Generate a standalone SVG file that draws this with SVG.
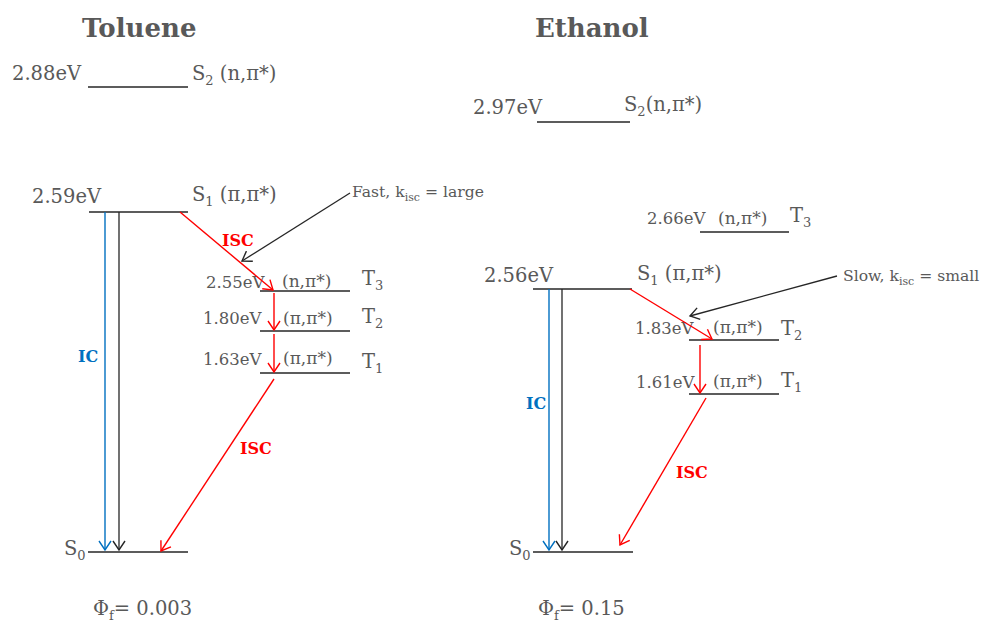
<svg xmlns="http://www.w3.org/2000/svg" width="984" height="624" viewBox="0 0 984 624">
<style>
text{font-family:"DejaVu Serif","Liberation Serif",serif;fill:#595959}
.e{font-size:19.5px}
.s{font-size:16.5px}
.p{font-size:17px}
.n{font-size:15.6px}
.t{font-size:26px;font-weight:bold}
.lab{font-size:16px;font-weight:bold}
.lv{stroke:#262626;stroke-width:1.3;fill:none}
.k{stroke:#262626;stroke-width:1.3;fill:none}
.r{stroke:#ff0000;stroke-width:1.4;fill:none}
.b{stroke:#0070c0;stroke-width:1.4;fill:none}
</style>
<defs>
<marker id="mk" markerUnits="userSpaceOnUse" markerWidth="14" markerHeight="14" refX="10" refY="7" orient="auto"><path d="M1,1 L10,7 L1,13" fill="none" stroke="#262626" stroke-width="1.4"/></marker>
<marker id="mr" markerUnits="userSpaceOnUse" markerWidth="14" markerHeight="14" refX="10" refY="7" orient="auto"><path d="M1,1 L10,7 L1,13" fill="none" stroke="#ff0000" stroke-width="1.4"/></marker>
<marker id="mb" markerUnits="userSpaceOnUse" markerWidth="14" markerHeight="14" refX="10" refY="7" orient="auto"><path d="M1,1 L10,7 L1,13" fill="none" stroke="#0070c0" stroke-width="1.4"/></marker>
</defs>
<rect width="984" height="624" fill="#ffffff"/>

<!-- Toluene -->
<text class="t" x="82" y="37">Toluene</text>
<g id="tol-S2">
<line class="lv" x1="88" y1="87" x2="188" y2="87"/>
<text class="e" x="12" y="80">2.88eV</text>
<text class="e" x="192" y="80">S<tspan font-size="13" dy="5">2</tspan><tspan dy="-5"> (n,π*)</tspan></text>
</g>
<g id="tol-S1">
<line class="lv" x1="89" y1="212" x2="188" y2="212"/>
<text class="e" x="32" y="203">2.59eV</text>
<text class="e" x="192" y="201">S<tspan font-size="13" dy="5">1</tspan><tspan dy="-5"> (π,π*)</tspan></text>
</g>
<g id="tol-T3">
<line class="lv" x1="260" y1="291" x2="350" y2="291"/>
<text class="s" x="206" y="288">2.55eV</text>
<text class="p" x="282" y="287">(n,π*)</text>
<text class="e" x="362" y="285">T<tspan font-size="13" dy="5">3</tspan></text>
</g>
<g id="tol-T2">
<line class="lv" x1="260" y1="331" x2="350" y2="331"/>
<text class="s" x="203" y="324">1.80eV</text>
<text class="p" x="283" y="324">(π,π*)</text>
<text class="e" x="362" y="323">T<tspan font-size="13" dy="5">2</tspan></text>
</g>
<g id="tol-T1">
<line class="lv" x1="260" y1="373" x2="350" y2="373"/>
<text class="s" x="203" y="365">1.63eV</text>
<text class="p" x="283" y="364">(π,π*)</text>
<text class="e" x="362" y="368">T<tspan font-size="13" dy="5">1</tspan></text>
</g>
<g id="tol-S0">
<line class="lv" x1="88" y1="552" x2="188" y2="552"/>
<text class="e" x="64" y="555">S<tspan font-size="13" dy="5">0</tspan></text>
</g>
<text class="e" x="93" y="615">Φ<tspan font-size="13" dy="5">f</tspan><tspan dy="-5">= 0.003</tspan></text>
<text class="n" x="352" y="197">Fast, k<tspan font-size="11" dy="4">isc</tspan><tspan dy="-4"> = large</tspan></text>

<!-- Ethanol -->
<text class="t" x="535" y="37">Ethanol</text>
<g id="eth-S2">
<line class="lv" x1="537" y1="122" x2="630" y2="122"/>
<text class="e" x="473" y="114">2.97eV</text>
<text class="e" x="624" y="111">S<tspan font-size="13" dy="5">2</tspan><tspan dy="-5">(n,π*)</tspan></text>
</g>
<g id="eth-T3">
<line class="lv" x1="700" y1="232" x2="789" y2="232"/>
<text class="s" x="647" y="224">2.66eV</text>
<text class="p" x="718" y="224">(n,π*)</text>
<text class="e" x="790" y="222">T<tspan font-size="13" dy="5">3</tspan></text>
</g>
<g id="eth-S1">
<line class="lv" x1="533" y1="289" x2="632" y2="289"/>
<text class="e" x="484" y="282">2.56eV</text>
<text class="e" x="637" y="280">S<tspan font-size="13" dy="5">1</tspan><tspan dy="-5"> (π,π*)</tspan></text>
</g>
<g id="eth-T2">
<line class="lv" x1="689" y1="340" x2="779" y2="340"/>
<text class="s" x="635" y="334">1.83eV</text>
<text class="p" x="713" y="333">(π,π*)</text>
<text class="e" x="781" y="335">T<tspan font-size="13" dy="5">2</tspan></text>
</g>
<g id="eth-T1">
<line class="lv" x1="689" y1="394" x2="779" y2="394"/>
<text class="s" x="636" y="388">1.61eV</text>
<text class="p" x="713" y="387">(π,π*)</text>
<text class="e" x="781" y="387">T<tspan font-size="13" dy="5">1</tspan></text>
</g>
<g id="eth-S0">
<line class="lv" x1="533" y1="552" x2="633" y2="552"/>
<text class="e" x="509" y="555">S<tspan font-size="13" dy="5">0</tspan></text>
</g>
<text class="e" x="538" y="615">Φ<tspan font-size="13" dy="5">f</tspan><tspan dy="-5">= 0.15</tspan></text>
<text class="n" x="843" y="281">Slow, k<tspan font-size="11" dy="4">isc</tspan><tspan dy="-4"> = small</tspan></text>

<!-- connectors -->
<g id="connectors">
<line class="b" x1="105" y1="212" x2="105" y2="550" marker-end="url(#mb)"/>
<line class="k" x1="119" y1="212" x2="119" y2="550" marker-end="url(#mk)"/>
<line class="r" x1="180" y1="212" x2="273" y2="290" marker-end="url(#mr)"/>
<line class="r" x1="274" y1="293" x2="274" y2="330" marker-end="url(#mr)"/>
<line class="r" x1="274" y1="334" x2="274" y2="372" marker-end="url(#mr)"/>
<line class="r" x1="274" y1="379" x2="161" y2="551" marker-end="url(#mr)"/>
<line class="k" x1="350" y1="193" x2="242" y2="261" marker-end="url(#mk)"/>

<line class="b" x1="549" y1="289" x2="549" y2="550" marker-end="url(#mb)"/>
<line class="k" x1="562" y1="289" x2="562" y2="550" marker-end="url(#mk)"/>
<line class="r" x1="630" y1="289" x2="712" y2="339" marker-end="url(#mr)"/>
<line class="r" x1="700" y1="345" x2="700" y2="393" marker-end="url(#mr)"/>
<line class="r" x1="706" y1="398" x2="620" y2="545" marker-end="url(#mr)"/>
<line class="k" x1="837" y1="276" x2="690" y2="316" marker-end="url(#mk)"/>
</g>
<text class="lab" x="222" y="246" style="fill:#ff0000">ISC</text>
<text class="lab" x="240" y="454" style="fill:#ff0000">ISC</text>
<text class="lab" x="78" y="362" style="fill:#0070c0">IC</text>
<text class="lab" x="676" y="478" style="fill:#ff0000">ISC</text>
<text class="lab" x="526" y="409" style="fill:#0070c0">IC</text>
</svg>
